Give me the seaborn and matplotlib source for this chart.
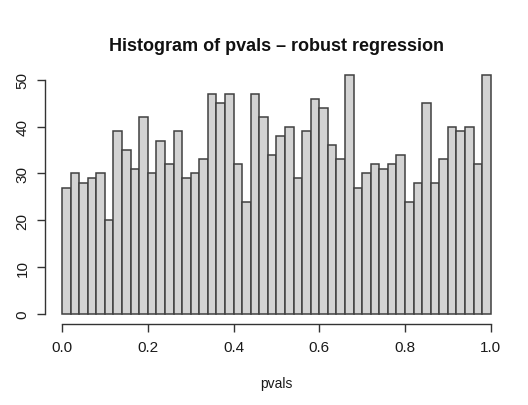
import numpy as np
import pandas as pd
import seaborn as sns
import matplotlib.pyplot as plt

# contagens por intervalo (50 classes de largura 0.02 entre 0 e 1)
bin_edges = np.linspace(0, 1, 51)
counts = [27, 30, 28, 29, 30, 20, 39, 35, 31, 42,
          30, 37, 32, 39, 29, 30, 33, 47, 45, 47,
          32, 24, 47, 42, 34, 38, 40, 29, 39, 46,
          44, 36, 33, 51, 27, 30, 32, 31, 32, 34,
          24, 28, 45, 28, 33, 40, 39, 40, 32, 51]
x_ticks = [0.0, 0.2, 0.4, 0.6, 0.8, 1.0]
y_ticks = [0, 10, 20, 30, 40, 50]

dados = pd.DataFrame({'pvals': (bin_edges[:-1] + bin_edges[1:]) / 2, 'n': counts})

sns.set_style('white')
plt.rcParams['font.family'] = ['Liberation Sans', 'DejaVu Sans']

fig = plt.figure(figsize=(5.28, 4.06), dpi=100)
ax = fig.add_axes([0.085, 0.2007, 0.877, 0.6353])

sns.histplot(data=dados, x='pvals', weights='n', binwidth=0.02, binrange=(0, 1), ax=ax,
             color='#d3d3d3', edgecolor='#404040', linewidth=1.1, alpha=1)

# limites no estilo R (4% de folga)
ax.set_xlim(-0.04, 1.04)
ax.set_ylim(-0.04 * 51, 51 * 1.04)

ax.set_xticks(x_ticks)
ax.set_xticklabels([f'{v:.1f}' for v in x_ticks])
ax.set_yticks(y_ticks)
ax.set_yticklabels([str(v) for v in y_ticks], rotation=90, va='center')

for lado in ['top', 'right']:
    ax.spines[lado].set_visible(False)
ax.spines['left'].set_bounds(0, 50)
ax.spines['bottom'].set_bounds(0, 1)
for lado in ['left', 'bottom']:
    ax.spines[lado].set_color('#333333')
    ax.spines[lado].set_linewidth(1.0)
ax.tick_params(axis='both', direction='out', length=6, width=1.0, color='#333333',
               labelsize=11, labelcolor='#1a1a1a', pad=6, bottom=True, left=True)
ax.tick_params(axis='y', pad=5)

ax.set_title('Histogram of pvals – robust regression', fontsize=13, fontweight='bold',
             pad=11, color='#111111')
ax.set_xlabel('pvals', fontsize=10, labelpad=16, color='#1a1a1a')
ax.set_ylabel('')

fig.savefig('out.png', dpi=100)
